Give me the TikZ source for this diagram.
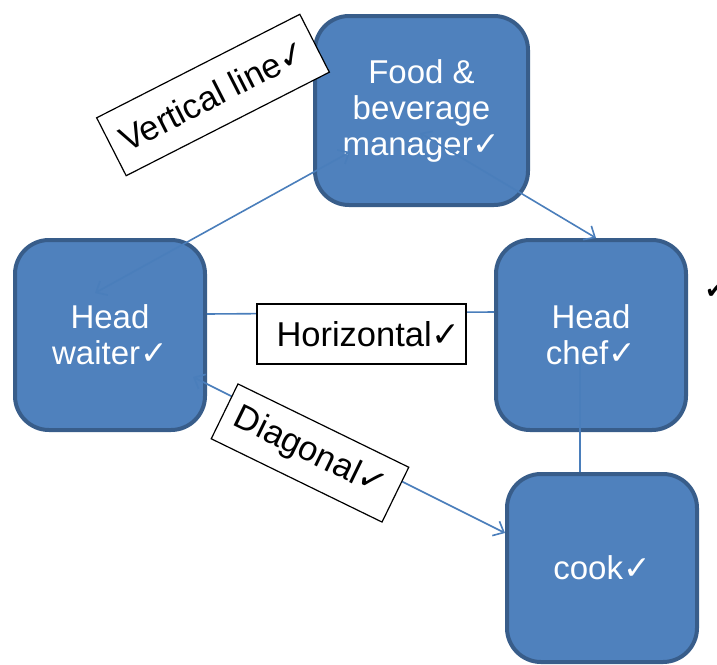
\documentclass[tikz,border=0pt]{standalone}
\usepackage{fontspec}
\setmainfont{Liberation Sans}
\newfontfamily\checkfont{DejaVu Sans}
\usepackage{tikz}
\usetikzlibrary{calc,arrows.meta}
\definecolor{boxfill}{HTML}{4F81BD}
\definecolor{boxedge}{HTML}{385D8A}
\definecolor{linkblue}{HTML}{4A7EBB}
\newcommand{\chk}{{\checkfont ✓}}

\tikzset{
  role/.style={draw=boxedge,fill=boxfill,line width=4pt,rounded corners=34pt,
    text=white,align=center,font=\fontsize{33}{36}\selectfont,inner sep=0pt},
  tag/.style={draw=black,fill=white,line width=1.2pt,
    font=\fontsize{34.5}{36}\selectfont,inner sep=0pt},
  conn/.style={linkblue,line width=1.6pt},
}

\begin{document}
\begin{tikzpicture}[x=1pt,y=-1pt,>={Straight Barb[length=9pt,width=16pt]}]
  \useasboundingbox (0,0) rectangle (717,664);
  % the four posts
  \node[role,minimum width=213pt,minimum height=189pt] (mgr) at (421.5,110.5) {Food \&\\beverage\\manager\chk};
  \node[role,minimum width=190pt,minimum height=190pt] (waiter) at (110,335) {Head\\waiter\chk};
  \node[role,minimum width=190pt,minimum height=190pt] (chef) at (591,335) {Head\\chef\chk};
  \node[role,minimum width=190pt,minimum height=188pt] (cook) at (602,568) {cook\chk};
  % lines of communication
  \draw[conn,<->] ($(waiter.center)+(-15,-42)$) -- ($(mgr.center)+(-71.5,41.5)$);
  \draw[conn,<->] ($(mgr.center)+(-1.5,22.5)$) -- ($(chef.north)+(5,0)$);
  \draw[conn] ($(waiter.east)+(0,-21)$) -- ($(chef.west)+(0,-23)$);
  \draw[conn,<->] ($(waiter.center)+(83,42)$) -- ($(cook.west)+(0,-35)$);
  \draw[conn] ($(chef.center)+(-11,27)$) -- ($(cook.north)+(-22,0)$);
  % labels
  \node[tag,minimum width=228pt,minimum height=65pt,rotate=27] (vlab) at (213,95) {Vertical line\chk};
  \node[tag,minimum width=209pt,minimum height=60pt,text width=170pt] (hlab) at (361.5,334) {Horizontal\chk};
  \node[tag,minimum width=190pt,minimum height=61pt,rotate=-26] (dlab) at (310,453) {Diagonal\chk};
  \node[anchor=south west,inner sep=0pt,font=\checkfont\fontsize{24}{24}\selectfont] (stray) at (705,299) {✔};
\end{tikzpicture}
\end{document}
